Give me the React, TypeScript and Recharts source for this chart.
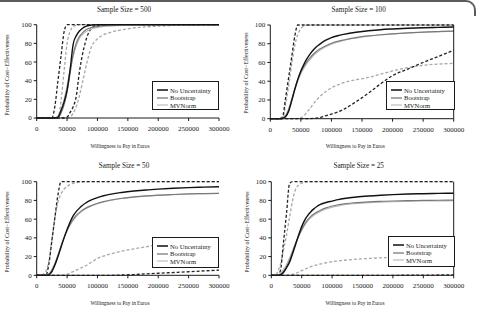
import React from "react"
import { Line, LineChart, XAxis, YAxis } from "recharts"

// willingness to pay grid (euros)
const wtp = [
  0, 5000, 10000, 15000, 20000, 25000, 30000, 35000, 40000, 45000, 50000, 55000, 60000, 65000, 70000, 75000,
  80000, 90000, 100000, 110000, 120000, 140000, 160000, 180000, 200000, 225000, 250000, 275000, 300000,
]

const xTicks = [0, 50000, 100000, 150000, 200000, 250000, 300000]
const yTicks = [0, 20, 40, 60, 80, 100]
const legendLabels = ["No Uncertainty", "Bootstrap", "MVNorm"]

// sample size 500
const n500NoUnc = [0, 0, 0, 0, 0, 0, 0, 1, 8, 17, 30, 52, 79, 88, 93, 96, 98, 99.5, 100, 100, 100, 100, 100, 100, 100, 100, 100, 100, 100]
const n500Boot = [0, 0, 0, 0, 0, 0, 0, 0, 5, 14, 28, 48, 68, 80, 87, 91, 94, 97, 98, 99, 99.5, 100, 100, 100, 100, 100, 100, 100, 100]
const n500Mvn = [0, 0, 0, 0, 0, 0, 0, 2, 9, 20, 35, 52, 66, 77, 85, 89, 92, 95.5, 97, 98, 98.5, 99.3, 99.7, 100, 100, 100, 100, 100, 100]
const n500UpperA = [0, 0, 0, 0, 0, 0, 13, 40, 66, 92, 100, 100, 100, 100, 100, 100, 100, 100, 100, 100, 100, 100, 100, 100, 100, 100, 100, 100, 100]
const n500UpperB = [0, 0, 0, 0, 0, 0, 0, 0, 18, 50, 80, 93, 98, 99.5, 100, 100, 100, 100, 100, 100, 100, 100, 100, 100, 100, 100, 100, 100, 100]
const n500LowerA = [0, 0, 0, 0, 0, 0, 0, 0, 0, 0, 1, 6, 12, 23, 48, 67, 81, 96, 99.5, 100, 100, 100, 100, 100, 100, 100, 100, 100, 100]
const n500LowerB = [0, 0, 0, 0, 0, 0, 0, 0, 0, 0, 0, 1, 5, 12, 23, 37, 52, 76, 85, 89, 91.5, 94.5, 96.5, 97.7, 98.5, 99.2, 99.6, 99.9, 100]

// sample size 100
const n100NoUnc = [0, 0, 0, 0, 0.5, 2, 8, 19, 31, 42, 51, 58, 64, 69, 73, 76.5, 79, 83.5, 86.5, 88.5, 90, 92.3, 93.8, 95, 95.8, 96.6, 97.1, 97.5, 97.8]
const n100Boot = [0, 0, 0, 0, 0.5, 2.5, 9, 20, 32, 42, 50, 56, 61, 65, 68.5, 71.5, 74, 77.5, 80.5, 82.5, 84, 86.5, 88.3, 89.6, 90.6, 91.6, 92.4, 93, 93.5]
const n100Mvn = [0, 0, 0, 0, 1, 4, 11, 21, 31, 40, 48, 54, 59, 63, 67, 70, 72.5, 76.5, 79.5, 81.8, 83.5, 86, 88, 89.3, 90.4, 91.4, 92.2, 92.8, 93.3]
const n100UpperA = [0, 0, 0, 0, 2, 22, 44, 66, 88, 100, 100, 100, 100, 100, 100, 100, 100, 100, 100, 100, 100, 100, 100, 100, 100, 100, 100, 100, 100]
const n100UpperB = [0, 0, 0, 0, 0, 15, 35, 58, 78, 90, 96, 99, 100, 100, 100, 100, 100, 100, 100, 100, 100, 100, 100, 100, 100, 100, 100, 100, 100]
const n100LowerA = [0, 0, 0, 0, 0, 0, 0, 0, 0, 0, 0, 0, 0, 0.1, 0.3, 0.6, 1, 3, 5, 7, 10, 18, 27, 37, 46, 53, 60, 66.5, 73]
const n100LowerB = [0, 0, 0, 0, 0, 0, 0, 0, 0, 0.3, 1, 3, 7, 11, 15.5, 19.5, 23, 28.5, 33, 36, 38.5, 41.5, 44, 47.5, 51, 54.5, 57, 58.3, 59]

// sample size 50
const n50NoUnc = [0, 0, 0, 0, 0.5, 4, 11, 20, 30, 40, 49, 57, 63.5, 68, 71.5, 74.5, 77, 80.5, 83, 85, 86.5, 88.5, 90, 91.2, 92.1, 93, 93.7, 94.2, 94.6]
const n50Boot = [0, 0, 0, 0, 1, 5, 12, 21, 31, 40, 48, 54.5, 60, 64, 67, 69.5, 71.5, 74.5, 77, 78.8, 80.2, 82.3, 83.7, 84.8, 85.6, 86.3, 86.9, 87.3, 87.6]
const n50Mvn = [0, 0, 0, 0.5, 2, 6.5, 13.5, 22, 31.5, 40, 47.5, 53.5, 58.5, 62.5, 65.8, 68.5, 70.7, 74, 76.5, 78.4, 79.8, 82, 83.5, 84.6, 85.4, 86.2, 86.8, 87.2, 87.5]
const n50UpperA = [0, 0, 0, 0, 12, 37, 62, 86, 100, 100, 100, 100, 100, 100, 100, 100, 100, 100, 100, 100, 100, 100, 100, 100, 100, 100, 100, 100, 100]
const n50UpperB = [0, 0, 1, 4, 15, 38, 62, 78, 87, 92, 95, 97, 98.3, 99, 99.5, 99.8, 100, 100, 100, 100, 100, 100, 100, 100, 100, 100, 100, 100, 100]
const n50LowerA = [0, 0, 0, 0, 0, 0, 0, 0, 0, 0, 0, 0, 0, 0, 0, 0, 0, 0, 0, 0, 0, 0.3, 0.8, 1.5, 2.2, 3, 3.8, 4.7, 5.5]
const n50LowerB = [0, 0, 0, 0, 0, 0, 0, 0, 0, 0.3, 1, 2.5, 4, 5.5, 7, 8.5, 10, 14, 18, 20.5, 22.5, 25.8, 28.3, 30.5, 32.5, 34.3, 35.8, 37, 38]

// sample size 25
const n25NoUnc = [0, 0, 0, 0.5, 3, 8, 14, 23, 33, 43, 52, 59, 64, 68, 71, 73.5, 75.5, 77.8, 79.3, 80.8, 82, 83.7, 84.8, 85.6, 86.2, 86.8, 87.2, 87.5, 87.7]
const n25Boot = [0, 0, 0, 1, 4, 9, 16, 25, 34, 42, 49, 55, 59.5, 63, 65.5, 67.5, 69.3, 72, 74, 75.4, 76.4, 77.7, 78.5, 79, 79.4, 79.8, 80, 80.2, 80.3]
const n25Mvn = [0, 0, 0.5, 2, 6, 11.5, 18.5, 26.5, 34.5, 41.5, 48, 53.5, 58, 61.5, 64.2, 66.3, 68, 70.8, 72.8, 74.2, 75.3, 76.7, 77.6, 78.2, 78.6, 79, 79.3, 79.5, 79.6]
const n25UpperA = [0, 0, 0, 5, 35, 66, 98, 100, 100, 100, 100, 100, 100, 100, 100, 100, 100, 100, 100, 100, 100, 100, 100, 100, 100, 100, 100, 100, 100]
const n25UpperB = [0, 0, 3, 12, 27, 43, 62, 80, 92, 96.5, 98.5, 99.5, 100, 100, 100, 100, 100, 100, 100, 100, 100, 100, 100, 100, 100, 100, 100, 100, 100]
const n25LowerA = [0, 0, 0, 0, 0, 0, 0, 0, 0, 0, 0, 0, 0, 0, 0, 0, 0, 0, 0, 0, 0, 0, 0, 0, 0, 0.1, 0.2, 0.3, 0.5]
const n25LowerB = [0, 0, 0, 0, 0, 0, 0.3, 1, 2, 3.5, 5, 6.5, 8, 9.2, 10.3, 11.2, 12, 13.4, 14.5, 15.4, 16.1, 17.2, 18, 18.7, 19.2, 19.6, 19.9, 20.1, 20.2]

const FONT = "'Liberation Serif', 'DejaVu Serif', serif"
const INK = "#1a1a1a"
const BLACK = "#111111"
const MID = "#7a7a7a"
const LIGHT = "#b8b8b8"
const DASH_DARK = "#222222"
const DASH_LIGHT = "#a8a8a8"

interface Series {
  noUnc: number[]
  boot: number[]
  mvn: number[]
  upperA: number[]
  upperB: number[]
  lowerA: number[]
  lowerB: number[]
}

interface PanelProps {
  title: string
  s: Series
  ox: number
  oy: number
  w: number
  h: number
  left: number
  top: number
  right: number
  bottom: number
  rightAxis: boolean
  titleAt: [number, number]
  xLabelAt: [number, number]
  yLabelAt: [number, number]
  legend: { x: number; y: number; w: number; h: number }
}

const tickStyle = { fill: INK, fontSize: 7, fontFamily: FONT }

function Panel(p: PanelProps) {
  const rows = wtp.map((x, i) => ({
    wtp: x,
    noUnc: p.s.noUnc[i],
    boot: p.s.boot[i],
    mvn: p.s.mvn[i],
    upperA: p.s.upperA[i],
    upperB: p.s.upperB[i],
    lowerA: p.s.lowerA[i],
    lowerB: p.s.lowerB[i],
  }))

  const dashed = (key: string, color: string) => (
    <Line
      yAxisId="left"
      type="monotone"
      dataKey={key}
      stroke={color}
      strokeWidth={1.3}
      strokeDasharray="3 2"
      dot={false}
      isAnimationActive={false}
    />
  )
  const solid = (key: string, color: string, width: number) => (
    <Line
      yAxisId="left"
      type="monotone"
      dataKey={key}
      stroke={color}
      strokeWidth={width}
      dot={false}
      isAnimationActive={false}
    />
  )

  return (
    <>
      <div style={{ position: "absolute", left: p.ox, top: p.oy }}>
        <LineChart
          width={p.w}
          height={p.h}
          data={rows}
          margin={{ top: p.top, right: p.rightAxis ? 0 : p.right, left: 0, bottom: 0 }}
        >
          <XAxis
            dataKey="wtp"
            type="number"
            domain={[0, 300000]}
            ticks={xTicks}
            interval={0}
            height={p.bottom}
            tickSize={3}
            tickMargin={5}
            stroke={INK}
            tick={tickStyle}
            tickFormatter={(v) => String(v)}
          />
          <YAxis
            yAxisId="left"
            domain={[0, 100]}
            ticks={yTicks}
            interval={0}
            width={p.left}
            tickSize={3}
            tickMargin={2}
            stroke={INK}
            tick={tickStyle}
          />
          {p.rightAxis && (
            <YAxis
              yAxisId="right"
              orientation="right"
              domain={[0, 100]}
              ticks={yTicks}
              interval={0}
              width={p.right}
              tickSize={3}
              tickMargin={3}
              stroke={INK}
              tick={{ ...tickStyle, textAnchor: "start" }}
            />
          )}
          {dashed("upperB", DASH_LIGHT)}
          {dashed("lowerB", DASH_LIGHT)}
          {dashed("upperA", DASH_DARK)}
          {dashed("lowerA", DASH_DARK)}
          {solid("mvn", LIGHT, 1.1)}
          {solid("boot", MID, 1.2)}
          {solid("noUnc", BLACK, 1.4)}
        </LineChart>
      </div>
      <div
        style={{
          position: "absolute",
          left: p.ox + p.legend.x,
          top: p.oy + p.legend.y,
          width: p.legend.w,
          height: p.legend.h,
          boxSizing: "border-box",
          border: `1px solid ${INK}`,
          background: "#fff",
        }}
      >
        {legendLabels.map((label, i) => (
          <div
            key={label}
            style={{
              position: "absolute",
              left: 4,
              top: 4 + i * 7.7,
              height: 8,
              display: "flex",
              alignItems: "center",
              fontFamily: FONT,
              fontSize: 6.6,
              color: INK,
              whiteSpace: "nowrap",
            }}
          >
            <svg width={11} height={4} style={{ marginRight: 2 }}>
              <line
                x1={0}
                y1={2}
                x2={11}
                y2={2}
                stroke={[BLACK, MID, LIGHT][i]}
                strokeWidth={[1.5, 1.3, 1.1][i]}
              />
            </svg>
            {label}
          </div>
        ))}
      </div>
      <div style={centered(p.titleAt, 7.2)}>{p.title}</div>
      <div style={centered(p.xLabelAt, 5.3)}>Willingness to Pay in Euros</div>
      <div style={{ ...centered(p.yLabelAt, 6), transform: "translate(-50%, -50%) rotate(-90deg)" }}>
        Probability of Cost−Effectiveness
      </div>
    </>
  )
}

function centered([x, y]: [number, number], size: number): React.CSSProperties {
  return {
    position: "absolute",
    left: x,
    top: y,
    transform: "translate(-50%, -50%)",
    fontFamily: FONT,
    fontSize: size,
    color: INK,
    whiteSpace: "nowrap",
    lineHeight: 1,
  }
}

export default function App() {
  return (
    <div
      style={{
        position: "absolute",
        left: 0,
        top: 0,
        width: 477,
        height: 309,
        background: "#fff",
        overflow: "hidden",
      }}
    >
      <div
        style={{
          position: "absolute",
          left: -4,
          top: 0,
          width: 480,
          height: 16,
          boxSizing: "border-box",
          borderTop: "2px solid #5c5c5c",
          borderRight: "2px solid #5c5c5c",
          borderTopRightRadius: 10,
        }}
      />
      <Panel
        title="Sample Size = 500"
        s={{ noUnc: n500NoUnc, boot: n500Boot, mvn: n500Mvn, upperA: n500UpperA, upperB: n500UpperB, lowerA: n500LowerA, lowerB: n500LowerB }}
        ox={0}
        oy={0}
        w={238}
        h={150}
        left={36.7}
        top={24.7}
        right={19}
        bottom={32}
        rightAxis={false}
        titleAt={[124, 11]}
        xLabelAt={[120, 147]}
        yLabelAt={[7.3, 75]}
        legend={{ x: 152, y: 81, w: 67, h: 29 }}
      />
      <Panel
        title="Sample Size = 100"
        s={{ noUnc: n100NoUnc, boot: n100Boot, mvn: n100Mvn, upperA: n100UpperA, upperB: n100UpperB, lowerA: n100LowerA, lowerB: n100LowerB }}
        ox={237}
        oy={0}
        w={240}
        h={150}
        left={33.3}
        top={25}
        right={23.3}
        bottom={31.3}
        rightAxis={true}
        titleAt={[358.7, 11]}
        xLabelAt={[355.3, 147]}
        yLabelAt={[246, 73]}
        legend={{ x: 149, y: 81, w: 69, h: 29 }}
      />
      <Panel
        title="Sample Size = 50"
        s={{ noUnc: n50NoUnc, boot: n50Boot, mvn: n50Mvn, upperA: n50UpperA, upperB: n50UpperB, lowerA: n50LowerA, lowerB: n50LowerB }}
        ox={0}
        oy={150}
        w={238}
        h={159}
        left={36.7}
        top={31.7}
        right={19}
        bottom={33.7}
        rightAxis={false}
        titleAt={[124, 167.3]}
        xLabelAt={[120, 304]}
        yLabelAt={[7.3, 231.7]}
        legend={{ x: 152, y: 87, w: 67, h: 31 }}
      />
      <Panel
        title="Sample Size = 25"
        s={{ noUnc: n25NoUnc, boot: n25Boot, mvn: n25Mvn, upperA: n25UpperA, upperB: n25UpperB, lowerA: n25LowerA, lowerB: n25LowerB }}
        ox={237}
        oy={150}
        w={240}
        h={159}
        left={34.3}
        top={31.7}
        right={23.3}
        bottom={33.7}
        rightAxis={true}
        titleAt={[358.7, 167.3]}
        xLabelAt={[355, 304]}
        yLabelAt={[247, 231.7]}
        legend={{ x: 151, y: 86, w: 67, h: 31 }}
      />
    </div>
  )
}
